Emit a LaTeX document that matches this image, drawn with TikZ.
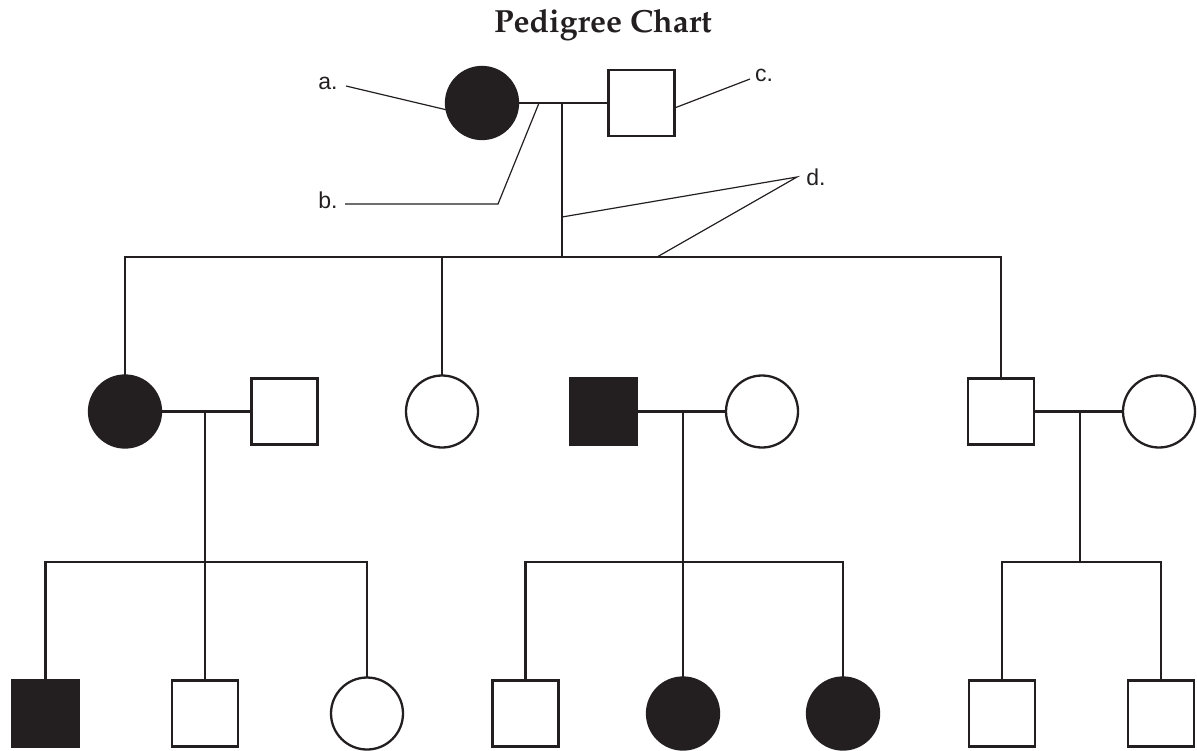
\documentclass[tikz,border=0pt]{standalone}
\usepackage[T1]{fontenc}
\usepackage{fontspec}
\newfontfamily\lblfont{Liberation Sans}
\newcommand\pedtitle{\fontencoding{T1}\fontfamily{ppl}\fontseries{b}\fontsize{16}{19}\selectfont}
\definecolor{ink}{HTML}{231F20}
\begin{document}
\begin{tikzpicture}[x=0.5pt, y=-0.5pt, line join=miter,
	person/.style={draw=ink, line width=1.15pt, inner sep=0pt, outer sep=0pt},
	male/.style={person, rectangle, minimum size=33pt},
	female/.style={person, circle, minimum size=36pt},
	sick/.style={fill=ink},
	link/.style={draw=ink, line width=1.15pt},
	pointer/.style={draw=ink, line width=0.6pt},
	lbl/.style={font=\lblfont\fontsize{11.5}{13}\selectfont, text=ink, inner sep=0pt}]
	\useasboundingbox (0,0) rectangle (1197,750);
	\node[font=\pedtitle, text=ink, anchor=base] (title) at (603,32) {Pedigree Chart};
	% generation I
	\node[female,sick] (g1f) at (482,103) {};
	\node[male] (g1m) at (641.5,103) {};
	\coordinate (j1) at (562,103);
	\coordinate (s1) at (562,257);
	% generation II
	\node[female,sick] (a1) at (125,411.5) {};
	\node[male] (a2) at (284.5,411.5) {};
	\node[female] (b1) at (442,411.5) {};
	\node[male,sick] (c1) at (603.5,411.5) {};
	\node[female] (c2) at (762,411.5) {};
	\node[male] (d1) at (1001,411.5) {};
	\node[female] (d2) at (1159,411.5) {};
	\coordinate (ja) at (205,411.5); \coordinate (sa) at (205,562);
	\coordinate (jc) at (683,411.5); \coordinate (sc) at (683,562);
	\coordinate (jd) at (1080,411.5); \coordinate (sd) at (1080,562);
	% generation III
	\node[male,sick] (a3) at (45.5,713.5) {};
	\node[male] (a4) at (205,713.5) {};
	\node[female] (a5) at (367,713.5) {};
	\node[male] (c3) at (525.5,713.5) {};
	\node[female,sick] (c4) at (683,713.5) {};
	\node[female,sick] (c5) at (843,713.5) {};
	\node[male] (d3) at (1002,713.5) {};
	\node[male] (d4) at (1161,713.5) {};
	% couples and offspring
	\foreach \p/\q in {g1f/g1m,a1/a2,c1/c2,d1/d2}
		\draw[link] (\p) -- (\q);
	\foreach \j/\s in {j1/s1,ja/sa,jc/sc,jd/sd}
		\draw[link] (\j) -- (\s);
	\draw[link] (a1.north) |- (s1) -| (d1.north);
	\draw[link] (s1) -| (b1.north);
	\draw[link] (a3.north) |- (sa) -| (a5.north);
	\draw[link] (sa) -- (a4.north);
	\draw[link] (c3.north) |- (sc) -| (c5.north);
	\draw[link] (sc) -- (c4.north);
	\draw[link] (d3.north) |- (sd) -| (d4.north);
	% labels
	\node[lbl] (la) at (328,83) {a.};
	\node[lbl] (lb) at (328,200) {b.};
	\node[lbl] (lc) at (764,75) {c.};
	\node[lbl] (ld) at (816,177) {d.};
	\coordinate (pa) at (346,86);
	\coordinate (pb) at (345,204);
	\coordinate (kb) at (498,204);
	\coordinate (jb) at (539,103);
	\coordinate (pc) at (750,79);
	\coordinate (pd) at (797,177);
	\coordinate (da) at (562,217);
	\coordinate (db) at (657,257);
	\draw[pointer] (pa) -- (g1f.191);
	\draw[pointer] (pb) -- (kb) -- (jb);
	\draw[pointer] (pc) -- ([yshift=-2.5pt]g1m.east);
	\draw[pointer] (da) -- (pd) -- (db);
\end{tikzpicture}
\end{document}
